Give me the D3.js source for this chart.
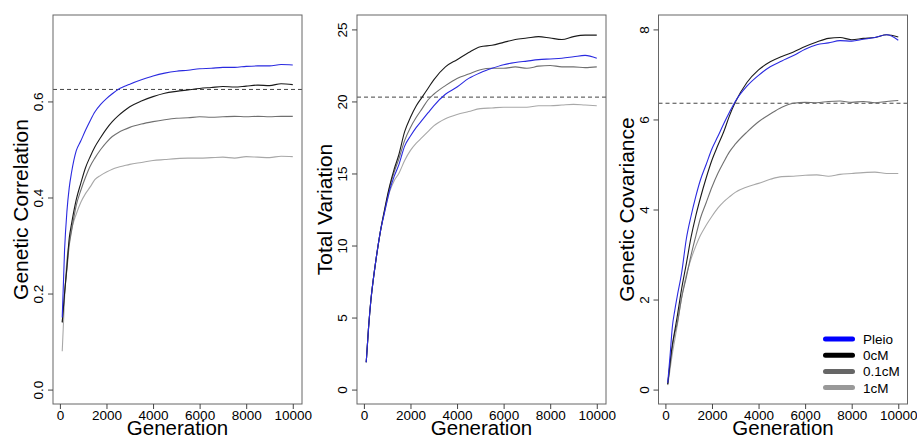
<!DOCTYPE html>
<html>
<head>
<meta charset="utf-8">
<script src="https://cdn.jsdelivr.net/npm/d3@7"></script>
<style>
  body { margin: 0; background: #fff; }
  svg { font-family: "Liberation Sans", Arial, sans-serif; }
</style>
</head>
<body>
<div id="chart"></div>
<script>
// Series shared by all three panels
const seriesNames = ["Pleio", "0cM", "0.1cM", "1cM"];
const legendColors = ["#0000ff", "#000000", "#666666", "#999999"];
const lineColors = ["#2a2ae0", "#1a1a1a", "#707070", "#a8a8a8"];

const generations = [100, 200, 300, 400, 500, 700, 900, 1100, 1300, 1500, 1750, 2000, 2250, 2500, 2750,
  3000, 3500, 4000, 4500, 5000, 5500, 6000, 6500, 7000, 7500, 8000, 8500, 9000, 9500, 10000];
const xTicks = [0, 2000, 4000, 6000, 8000, 10000];

// Panel 1: genetic correlation
const corrPleio = [0.15, 0.29, 0.37, 0.42, 0.452, 0.497, 0.518, 0.54, 0.56, 0.578, 0.594, 0.606, 0.616, 0.625, 0.631,
  0.636, 0.645, 0.653, 0.659, 0.663, 0.665, 0.668, 0.669, 0.671, 0.671, 0.673, 0.674, 0.674, 0.677, 0.676];
const corr0cM = [0.14, 0.2, 0.255, 0.315, 0.345, 0.395, 0.43, 0.462, 0.485, 0.505, 0.525, 0.543, 0.558, 0.57, 0.58,
  0.589, 0.601, 0.61, 0.617, 0.621, 0.624, 0.627, 0.629, 0.631, 0.63, 0.632, 0.634, 0.633, 0.637, 0.635];
const corr01cM = [0.14, 0.2, 0.25, 0.3, 0.33, 0.383, 0.415, 0.442, 0.465, 0.482, 0.5, 0.515, 0.527, 0.535, 0.541,
  0.546, 0.553, 0.558, 0.562, 0.565, 0.566, 0.568, 0.567, 0.568, 0.569, 0.568, 0.569, 0.568, 0.569, 0.569];
const corr1cM = [0.08, 0.19, 0.27, 0.305, 0.333, 0.365, 0.39, 0.408, 0.422, 0.437, 0.446, 0.453, 0.459, 0.463, 0.466,
  0.469, 0.473, 0.477, 0.479, 0.481, 0.482, 0.482, 0.483, 0.484, 0.482, 0.485, 0.484, 0.483, 0.486, 0.485];
const corrTicks = [0, 0.2, 0.4, 0.6];

// Panel 2: total variation
const varPleio = [1.9, 4.3, 6.2, 7.6, 8.8, 10.9, 12.4, 13.8, 14.8, 15.6, 16.9, 17.6, 18.2, 18.7, 19.2,
  19.7, 20.5, 21.0, 21.6, 22.0, 22.3, 22.55, 22.7, 22.8, 22.9, 22.95, 23.0, 23.1, 23.2, 23.0];
const var0cM = [1.9, 4.3, 6.2, 7.6, 8.8, 10.9, 12.6, 14.1, 15.3, 16.3, 17.9, 18.9, 19.7, 20.3, 20.9,
  21.5, 22.4, 22.9, 23.4, 23.8, 23.9, 24.1, 24.3, 24.4, 24.5, 24.4, 24.3, 24.5, 24.6, 24.6];
const var01cM = [1.9, 4.3, 6.2, 7.6, 8.8, 10.9, 12.5, 14.0, 15.1, 16.0, 17.3, 18.2, 18.9, 19.5, 20.1,
  20.5, 21.1, 21.6, 21.9, 22.2, 22.3, 22.3, 22.4, 22.3, 22.45, 22.5, 22.4, 22.4, 22.35, 22.4];
const var1cM = [1.9, 4.3, 6.2, 7.6, 8.8, 10.9, 12.4, 13.7, 14.5, 15.0, 15.9, 16.6, 17.1, 17.5, 17.9,
  18.3, 18.8, 19.1, 19.3, 19.5, 19.55, 19.6, 19.6, 19.6, 19.7, 19.7, 19.75, 19.8, 19.75, 19.7];
const varTicks = [0, 5, 10, 15, 20, 25];

// Panel 3: genetic covariance
const covPleio = [0.15, 0.75, 1.4, 1.75, 2.05, 2.6, 3.35, 3.85, 4.28, 4.65, 5.0, 5.35, 5.62, 5.9, 6.16,
  6.4, 6.74, 6.98, 7.17, 7.3, 7.42, 7.56, 7.66, 7.7, 7.75, 7.74, 7.78, 7.82, 7.88, 7.76];
const cov0cM = [0.12, 0.6, 1.0, 1.3, 1.6, 2.25, 2.8, 3.38, 3.85, 4.25, 4.7, 5.1, 5.42, 5.72, 6.08,
  6.38, 6.82, 7.1, 7.28, 7.4, 7.5, 7.62, 7.72, 7.8, 7.82, 7.77, 7.8, 7.82, 7.88, 7.83];
const cov01cM = [0.12, 0.55, 0.95, 1.25, 1.45, 2.05, 2.5, 2.98, 3.4, 3.8, 4.15, 4.5, 4.8, 5.05, 5.28,
  5.45, 5.72, 5.95, 6.12, 6.27, 6.36, 6.38, 6.37, 6.4, 6.41, 6.38, 6.4, 6.37, 6.4, 6.42];
const cov1cM = [0.1, 0.45, 0.8, 1.1, 1.4, 2.05, 2.55, 2.9, 3.18, 3.42, 3.65, 3.85, 4.03, 4.17, 4.28,
  4.38, 4.5, 4.58, 4.67, 4.73, 4.74, 4.76, 4.77, 4.74, 4.78, 4.8, 4.82, 4.83, 4.8, 4.8];
const covTicks = [0, 2, 4, 6, 8];

// dashed reference levels, one per panel
const refLevels = [0.625, 20.3, 6.36];

const width = 917, height = 438;
const plotTop = 15, plotBottom = 404, panelW = 249;

const panels = [
  { left: 53, title: "Genetic Correlation", yDomain: [-0.03, 0.78], ticks: corrTicks, fmt: d3.format(".1f"),
    series: [corrPleio, corr0cM, corr01cM, corr1cM] },
  { left: 357, title: "Total Variation", yDomain: [-1, 26], ticks: varTicks, fmt: d3.format("d"),
    series: [varPleio, var0cM, var01cM, var1cM] },
  { left: 658.5, title: "Genetic Covariance", yDomain: [-0.32, 8.32], ticks: covTicks, fmt: d3.format("d"),
    series: [covPleio, cov0cM, cov01cM, cov1cM] }
];

const svg = d3.select("#chart").append("svg")
  .attr("width", width)
  .attr("height", height);

panels.forEach((p, pi) => {
  const x = d3.scaleLinear().domain([-296, 10396]).range([p.left, p.left + panelW]);
  const y = d3.scaleLinear().domain(p.yDomain).range([plotBottom, plotTop]);
  const g = svg.append("g");

  // dashed reference line across the plot region
  g.append("line")
    .attr("x1", p.left).attr("x2", p.left + panelW)
    .attr("y1", y(refLevels[pi])).attr("y2", y(refLevels[pi]))
    .attr("stroke", "#444")
    .attr("stroke-dasharray", "4,3");

  const line = d3.line()
    .x((d, i) => x(generations[i]))
    .y(d => y(d))
    .curve(d3.curveMonotoneX);

  // draw 1cM first so Pleio ends on top
  for (let s = p.series.length - 1; s >= 0; s--) {
    g.append("path")
      .attr("d", line(p.series[s]))
      .attr("fill", "none")
      .attr("stroke", lineColors[s])
      .attr("stroke-width", 1.1);
  }

  // box
  g.append("rect")
    .attr("x", p.left).attr("y", plotTop)
    .attr("width", panelW).attr("height", plotBottom - plotTop)
    .attr("fill", "none")
    .attr("stroke", "#666");

  // x axis
  const xa = g.append("g")
    .attr("transform", `translate(0,${plotBottom})`)
    .call(d3.axisBottom(x).tickValues(xTicks).tickSize(5).tickFormat(d3.format("d")));
  xa.select(".domain").remove();
  xa.selectAll(".tick line").attr("stroke", "#444");
  xa.selectAll("text")
    .attr("y", 15.5).attr("dy", 0)
    .attr("font-size", 13.5)
    .attr("font-family", "Liberation Sans, Arial, sans-serif")
    .attr("fill", "#000");

  // y axis, labels parallel to the axis as in R
  const ya = g.append("g")
    .attr("transform", `translate(${p.left},0)`)
    .call(d3.axisLeft(y).tickValues(p.ticks).tickSize(5).tickFormat(p.fmt));
  ya.select(".domain").remove();
  ya.selectAll(".tick line").attr("stroke", "#444");
  ya.selectAll("text")
    .attr("transform", "rotate(-90)")
    .attr("x", 0).attr("y", -10).attr("dy", 0)
    .attr("text-anchor", "middle")
    .attr("font-size", 13.5)
    .attr("font-family", "Liberation Sans, Arial, sans-serif")
    .attr("fill", "#000");

  // axis titles
  g.append("text")
    .attr("x", p.left + panelW / 2).attr("y", 435)
    .attr("text-anchor", "middle")
    .attr("font-size", 20.5)
    .text("Generation");
  g.append("text")
    .attr("transform", `translate(${p.left - 25},${(plotTop + plotBottom) / 2}) rotate(-90)`)
    .attr("text-anchor", "middle")
    .attr("font-size", 21)
    .text(p.title);
});

// legend in the last panel
const legend = svg.append("g")
  .selectAll("g")
  .data(seriesNames)
  .join("g")
  .attr("transform", (d, i) => `translate(825.5,${339 + i * 16.2})`);
legend.append("line")
  .attr("x1", 0).attr("x2", 27)
  .attr("stroke", (d, i) => legendColors[i])
  .attr("stroke-width", 5)
  .attr("stroke-linecap", "round");
legend.append("text")
  .attr("x", 37.5).attr("y", 5)
  .attr("font-size", 13.5)
  .text(d => d);
</script>
</body>
</html>
